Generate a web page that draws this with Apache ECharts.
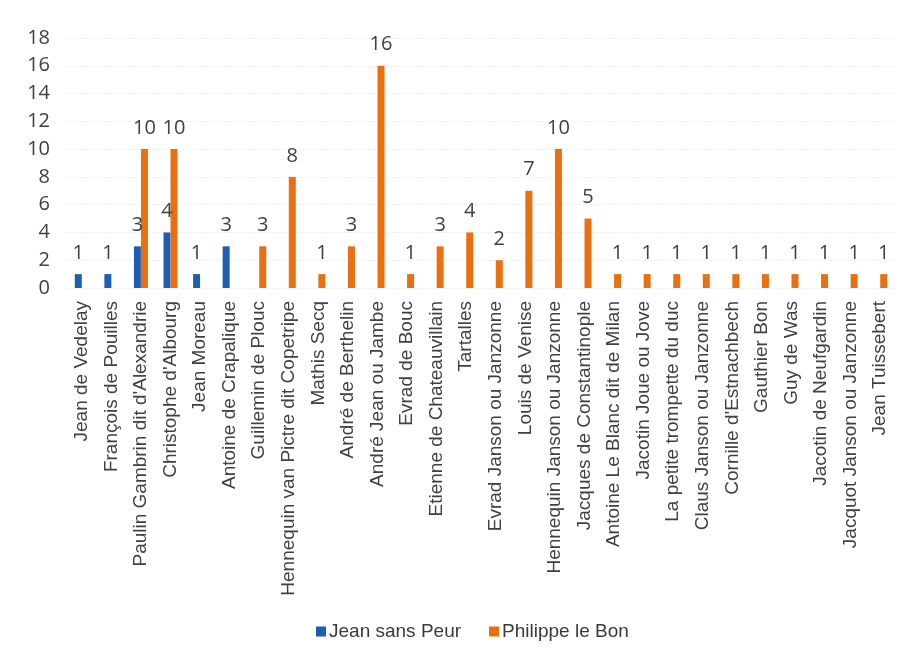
<!DOCTYPE html>
<html>
<head>
<meta charset="utf-8">
<script src="https://cdn.jsdelivr.net/npm/echarts@6/dist/echarts.min.js"></script>
<style>
    html, body { margin: 0; padding: 0; background: #fff; }
    #chart { width: 917px; height: 660px; }
</style>
</head>
<body>
<div id="chart"></div>
<script>
var categories = [
    'Jean de Vedelay', 'François de Pouilles', "Paulin Gambrin dit d'Alexandrie",
    "Christophe d'Albourg", 'Jean Moreau', 'Antoine de Crapalique', 'Guillemin de Plouc',
    'Hennequin van Pictre dit Copetripe', 'Mathis Secq', 'André de Berthelin',
    'André Jean ou Jambe', 'Evrad de Bouc', 'Etienne de Chateauvillain', 'Tartalles',
    'Evrad Janson ou Janzonne', 'Louis de Venise', 'Hennequin Janson ou Janzonne',
    'Jacques de Constantinople', 'Antoine Le Blanc dit de Milan', 'Jacotin Joue ou Jove',
    'La petite trompette du duc', 'Claus Janson ou Janzonne', "Cornille d'Estnachbech",
    'Gauthier Bon', 'Guy de Was', 'Jacotin de Neufgardin', 'Jacquot Janson ou Janzonne',
    'Jean Tuissebert'
];
var jeanSansPeur = [1, 1, 3, 4, 1, 3, null, null, null, null, null, null, null, null,
    null, null, null, null, null, null, null, null, null, null, null, null, null, null];
var philippeLeBon = [null, null, 10, 10, null, null, 3, 8, 1, 3, 16, 1, 3, 4,
    2, 7, 10, 5, 1, 1, 1, 1, 1, 1, 1, 1, 1, 1];
var seriesNames = ['Jean sans Peur', 'Philippe le Bon'];

var chart = echarts.init(document.getElementById('chart'));

// etiquettes de valeur au-dessus des barres
var labelStyle = {
    show: true,
    position: 'top',
    distance: 11,
    color: '#404040',
    fontSize: 20,
    fontFamily: 'Open Sans'
};

var option = {
    animation: false,
    color: ['#1c5fb2', '#ea6f10'],
    grid: {
        left: 67,
        right: 22,
        top: 38,
        height: 250
    },
    legend: {
        bottom: 14,
        left: 311,
        itemWidth: 10,
        itemHeight: 10,
        itemGap: 28,
        icon: 'rect',
        textStyle: { color: '#3a3a3a', fontSize: 19, fontFamily: 'Liberation Sans', padding: [0, 0, 0, -2] },
        data: seriesNames
    },
    xAxis: {
        type: 'category',
        data: categories,
        axisLine: { show: false },
        axisTick: { show: false },
        axisLabel: {
            rotate: 90,
            interval: 0,
            margin: 13,
            color: '#404040',
            fontSize: 19,
            fontFamily: 'Liberation Sans'
        }
    },
    yAxis: {
        type: 'value',
        min: 0,
        max: 18,
        interval: 2,
        axisLine: { show: false },
        axisTick: { show: false },
        axisLabel: { color: '#404040', fontSize: 20, fontFamily: 'Open Sans', margin: 17 },
        splitLine: { lineStyle: { color: '#efefef', type: 'dashed' } }
    },
    series: [{
        name: seriesNames[0],
        type: 'bar',
        barWidth: 7,
        barGap: '0%',
        data: jeanSansPeur,
        label: labelStyle
    }, {
        name: seriesNames[1],
        type: 'bar',
        barWidth: 7,
        barGap: '0%',
        data: philippeLeBon,
        label: labelStyle
    }]
};
chart.setOption(option);
</script>
</body>
</html>
